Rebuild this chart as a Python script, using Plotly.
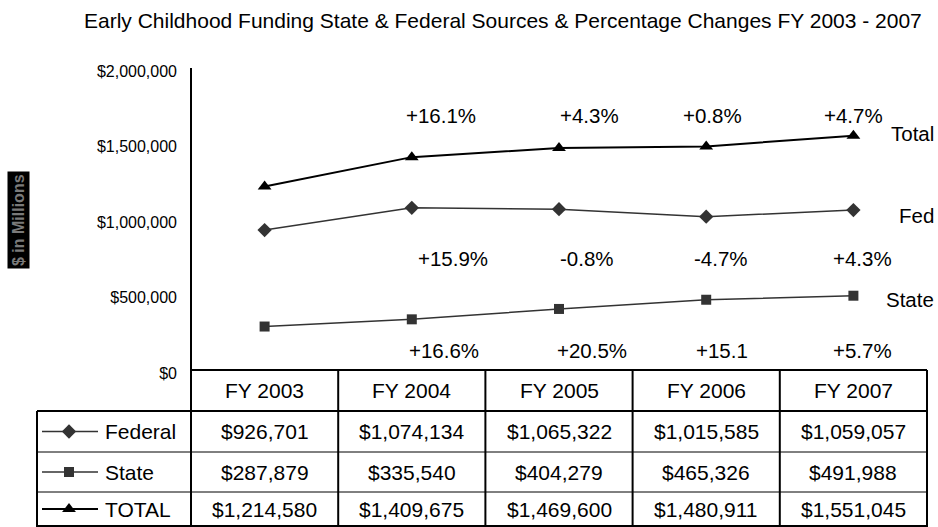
import plotly.graph_objects as go

# ---- data ----
years = ["FY 2003", "FY 2004", "FY 2005", "FY 2006", "FY 2007"]
federal = [926701, 1074134, 1065322, 1015585, 1059057]
state = [287879, 335540, 404279, 465326, 491988]
total = [1214580, 1409675, 1469600, 1480911, 1551045]
total_chg = ["+16.1%", "+4.3%", "+0.8%", "+4.7%"]
fed_chg = ["+15.9%", "-0.8%", "-4.7%", "+4.3%"]
state_chg = ["+16.6%", "+20.5%", "+15.1", "+5.7%"]
row_names = ["Federal", "State", "TOTAL"]
ytick_vals = [0, 500000, 1000000, 1500000, 2000000]

W, H = 938, 527
FONT = "Arial, Liberation Sans, sans-serif"
X0, X1 = 191, 927          # plot / table columns (pixels)
YTOP, YBOT = 68, 370       # plot area (pixels)
TL = 37                    # table left edge
ROWS = [370, 411, 452, 492, 526]  # table row edges

fig = go.Figure()

fig.add_trace(go.Scatter(x=years, y=total, mode="lines+markers", name="Total",
                         line=dict(color="#000000", width=2),
                         marker=dict(symbol="triangle-up", size=12, color="#000000")))
fig.add_trace(go.Scatter(x=years, y=federal, mode="lines+markers", name="Fed",
                         line=dict(color="#333333", width=1.5),
                         marker=dict(symbol="diamond", size=11, color="#333333")))
fig.add_trace(go.Scatter(x=years, y=state, mode="lines+markers", name="State",
                         line=dict(color="#333333", width=1.5),
                         marker=dict(symbol="square", size=10, color="#333333")))

# legend swatches in table (pixel overlay axis)
sw_styles = [("diamond", 11, "#333333", 1.5), ("square", 10, "#333333", 1.5),
             ("triangle-up", 12, "#000000", 2)]
for i, (sym, sz, col, lw) in enumerate(sw_styles):
    yc = (ROWS[i + 1] + ROWS[i + 2]) / 2
    fig.add_trace(go.Scatter(x=[42, 69, 98], y=[yc, yc, yc], xaxis="x2", yaxis="y2",
                             mode="lines", line=dict(color=col, width=lw),
                             hoverinfo="skip", showlegend=False))
    fig.add_trace(go.Scatter(x=[69], y=[yc], xaxis="x2", yaxis="y2", mode="markers",
                             marker=dict(symbol=sym, size=sz, color=col),
                             hoverinfo="skip", showlegend=False))

shapes = []
def ln(x0, y0, x1, y1, w=2):
    shapes.append(dict(type="line", xref="x2", yref="y2", x0=x0, y0=y0, x1=x1, y1=y1,
                       line=dict(color="black", width=w)))

colw = (X1 - X0) / 5
# verticals
ln(TL, ROWS[1], TL, H)
for k in range(6):
    xx = X0 + k * colw
    ln(xx, ROWS[0] if k > 0 else YTOP, xx, H)
# horizontals
ln(X0, ROWS[0], X1, ROWS[0])
ln(TL, ROWS[1], X1, ROWS[1])
ln(TL, ROWS[2], X1, ROWS[2], 1)
ln(TL, ROWS[3], X1, ROWS[3], 1)
ln(TL, ROWS[4], X1, ROWS[4])

ann = []
def txt(x, y, t, size=21, xref="x2", xanchor="center", **kw):
    ann.append(dict(x=x, y=y, xref=xref, yref="y2", text=t, showarrow=False,
                    xanchor=xanchor, yanchor="middle",
                    font=dict(family=FONT, size=size, color="#000000"), **kw))

# table header + values
for j, yr in enumerate(years):
    txt(yr, (ROWS[0] + ROWS[1]) / 2, yr, xref="x")
series = [federal, state, total]
for i, (nm, vals) in enumerate(zip(row_names, series)):
    yc = (ROWS[i + 1] + ROWS[i + 2]) / 2
    txt(103, yc, nm, xanchor="left")
    for j, v in enumerate(vals):
        txt(years[j], yc, "${:,}".format(v), xref="x")

# percentage change labels
tot_x = [441, 589, 712, 853]
fed_x = [453, 587, 721, 862]
sta_x = [444, 592, 722, 862]
for t, xx in zip(total_chg, tot_x):
    txt(xx, 115, t, size=20.5)
for t, xx in zip(fed_chg, fed_x):
    txt(xx, 258, t, size=20.5)
for t, xx in zip(state_chg, sta_x):
    txt(xx, 350, t, size=20.5)

# series labels
txt(936, 133, "Total", xanchor="right", size=20.5)
txt(936, 215, "Fed", xanchor="right", size=20.5)
txt(936, 299, "State", xanchor="right", size=20.5)

# title
txt(503, 20, "Early Childhood Funding State &amp; Federal Sources &amp; Percentage Changes FY 2003 - 2007",
    size=21)

# y-axis title box
ann.append(dict(x=18, y=220, xref="x2", yref="y2", text="<b>$ in Millions</b>",
                textangle=-90, showarrow=False, bgcolor="#000000", borderpad=2,
                font=dict(family=FONT, size=16, color="#7a7a7a")))

fig.update_layout(
    width=W, height=H, margin=dict(l=0, r=0, t=0, b=0, pad=0), autosize=False,
    paper_bgcolor="white", plot_bgcolor="rgba(0,0,0,0)", showlegend=False,
    font=dict(family=FONT, color="#000000"),
    xaxis=dict(domain=[X0 / W, X1 / W], range=[-0.5, 4.5], showticklabels=False,
               showgrid=False, zeroline=False, showline=False, ticks="",
               automargin=False),
    yaxis=dict(domain=[(H - YBOT) / H, (H - YTOP) / H], range=[0, 2000000],
               tickvals=ytick_vals,
               ticktext=["${:,}".format(v) for v in ytick_vals],
               tickfont=dict(family=FONT, size=16, color="#000000"),
               ticklabelstandoff=13, ticklabelshift=3, automargin=False,
               showgrid=False, zeroline=False, showline=False, ticks=""),
    xaxis2=dict(domain=[0, 1], range=[0, W], visible=False, fixedrange=True,
                anchor="y2", automargin=False),
    yaxis2=dict(domain=[0, 1], range=[H, 0], visible=False, fixedrange=True,
                anchor="x2", automargin=False),
    shapes=shapes, annotations=ann,
)

fig.write_html("out.html", config={"displayModeBar": False},
               post_script="document.body.style.margin='0';document.body.style.overflow='hidden';")
